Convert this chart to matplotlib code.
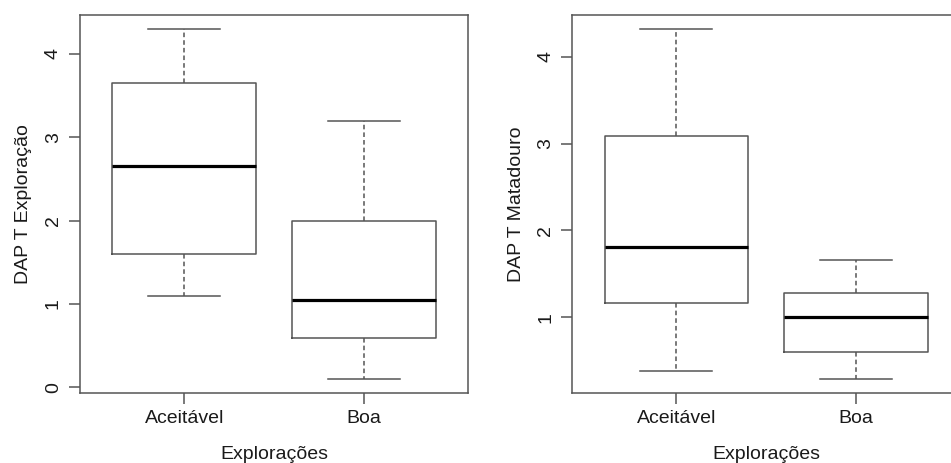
import matplotlib
matplotlib.use("Agg")
import matplotlib.pyplot as plt

plt.rcParams['font.family'] = ['Liberation Sans', 'DejaVu Sans']

categories = ["Aceitável", "Boa"]
xlabel = "Explorações"

# Panel 1: DAP T Exploração
p1_ylabel = "DAP T Exploração"
p1_whislo = [1.10, 0.10]
p1_q1 = [1.595, 0.595]
p1_med = [2.65, 1.045]
p1_q3 = [3.65, 2.00]
p1_whishi = [4.30, 3.20]
p1_yticks = [0, 1, 2, 3, 4]

# Panel 2: DAP T Matadouro
p2_ylabel = "DAP T Matadouro"
p2_whislo = [0.38, 0.286]
p2_q1 = [1.162, 0.603]
p2_med = [1.808, 1.00]
p2_q3 = [3.086, 1.283]
p2_whishi = [4.322, 1.66]
p2_yticks = [1, 2, 3, 4]

W, H = 951, 463
fig = plt.figure(figsize=(W / 100, H / 100), dpi=100)

LINE = "#555555"
TXT = "#1a1a1a"
FS = 14


def panel(rect, ylabel, whislo, q1, med, q3, whishi, yticks):
    ax = fig.add_axes(rect)
    stats = []
    for i, c in enumerate(categories):
        stats.append(dict(label=c, whislo=whislo[i], q1=q1[i], med=med[i],
                          q3=q3[i], whishi=whishi[i], fliers=[]))
    ax.bxp(stats, positions=[1, 2], widths=0.8, showfliers=False,
           boxprops=dict(color=LINE, linewidth=1.1),
           medianprops=dict(color="black", linewidth=2.3, solid_capstyle="butt"),
           whiskerprops=dict(color=LINE, linewidth=1.1, linestyle=(0, (3, 2))),
           capprops=dict(color=LINE, linewidth=1.1),
           capwidths=0.4)
    lo, hi = min(whislo), max(whishi)
    pad = (hi - lo) * 0.04
    ax.set_ylim(lo - pad, hi + pad)
    ax.set_xlim(0.42, 2.58)
    ax.set_yticks(yticks)
    ax.set_yticklabels([str(t) for t in yticks], rotation=90, va="center",
                       fontsize=FS)
    ax.set_xticks([1, 2])
    ax.set_xticklabels(categories, fontsize=FS)
    ax.tick_params(axis="both", direction="out", length=8, width=1.1,
                   color=LINE, labelcolor=TXT)
    ax.tick_params(axis="y", pad=5)
    ax.tick_params(axis="x", pad=4)
    for s in ax.spines.values():
        s.set_color(LINE)
        s.set_linewidth(1.1)
    ax.set_ylabel(ylabel, fontsize=FS, color=TXT, labelpad=9)
    ax.set_xlabel(xlabel, fontsize=FS, color=TXT, labelpad=14)
    return ax


rect_y0 = (H - 393) / H
rect_h = 378 / H
panel([80 / W, rect_y0, 388 / W, rect_h], p1_ylabel,
      p1_whislo, p1_q1, p1_med, p1_q3, p1_whishi, p1_yticks)
panel([572.3 / W, rect_y0, 387.5 / W, rect_h], p2_ylabel,
      p2_whislo, p2_q1, p2_med, p2_q3, p2_whishi, p2_yticks)

fig.savefig("out.png", dpi=100, facecolor="white")
